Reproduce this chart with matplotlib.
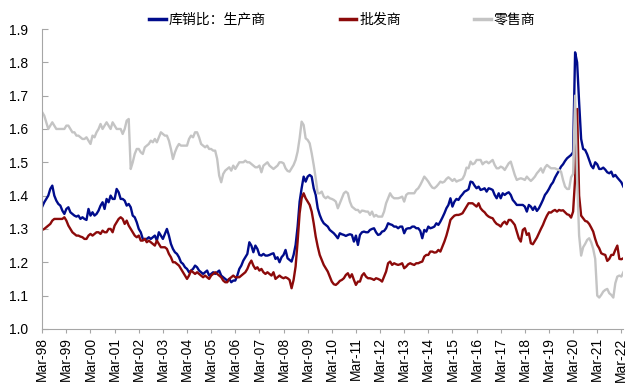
import matplotlib
matplotlib.use("Agg")
import matplotlib.pyplot as plt

plt.rcParams['font.family'] = ['Liberation Sans', 'Noto Sans CJK SC', 'DejaVu Sans']

# 月度库销比，1998年3月起（每行一年：3月 ... 次年2月）
producer = [
    1.367, 1.38, 1.39, 1.40, 1.42, 1.43, 1.40, 1.385, 1.375, 1.37, 1.355, 1.345,
    1.36, 1.365, 1.35, 1.345, 1.34, 1.337, 1.34, 1.33, 1.335, 1.33, 1.327, 1.36,
    1.34, 1.35, 1.34, 1.345, 1.355, 1.37, 1.38, 1.36, 1.39, 1.38, 1.40, 1.39,
    1.39, 1.42, 1.41, 1.39, 1.39, 1.385, 1.37, 1.375, 1.365, 1.34, 1.335, 1.32,
    1.30, 1.29, 1.27, 1.27, 1.27, 1.275, 1.27, 1.275, 1.28, 1.265, 1.29, 1.28,
    1.27, 1.285, 1.30, 1.28, 1.255, 1.24, 1.23, 1.225, 1.215, 1.20, 1.195, 1.185,
    1.18, 1.17, 1.175, 1.18, 1.19, 1.185, 1.175, 1.17, 1.165, 1.17, 1.175, 1.16,
    1.165, 1.17, 1.165, 1.17, 1.175, 1.16, 1.155, 1.15, 1.145, 1.15, 1.14, 1.145,
    1.145, 1.16, 1.18, 1.19, 1.205, 1.215, 1.225, 1.26, 1.25, 1.23, 1.25, 1.24,
    1.222, 1.22, 1.225, 1.22, 1.22, 1.222, 1.225, 1.227, 1.21, 1.215, 1.20, 1.215,
    1.222, 1.237, 1.212, 1.207, 1.202, 1.222, 1.252, 1.307, 1.382, 1.422, 1.457, 1.442,
    1.457, 1.462, 1.457, 1.422, 1.402, 1.362, 1.342, 1.327, 1.317, 1.312, 1.307, 1.297,
    1.292, 1.287, 1.28, 1.272, 1.287, 1.284, 1.282, 1.279, 1.282, 1.284, 1.282, 1.262,
    1.28, 1.252, 1.282, 1.29, 1.292, 1.29, 1.29, 1.297, 1.30, 1.302, 1.29, 1.282,
    1.284, 1.292, 1.294, 1.302, 1.317, 1.314, 1.312, 1.307, 1.307, 1.302, 1.307, 1.307,
    1.287, 1.30, 1.302, 1.302, 1.307, 1.307, 1.302, 1.302, 1.294, 1.272, 1.297, 1.292,
    1.307, 1.302, 1.304, 1.307, 1.317, 1.312, 1.322, 1.334, 1.347, 1.362, 1.372, 1.392,
    1.367, 1.382, 1.39, 1.387, 1.397, 1.404, 1.412, 1.415, 1.419, 1.442, 1.44, 1.43,
    1.422, 1.427, 1.417, 1.419, 1.422, 1.412, 1.422, 1.42, 1.417, 1.402, 1.392, 1.407,
    1.392, 1.407, 1.402, 1.407, 1.41, 1.402, 1.387, 1.38, 1.372, 1.372, 1.372, 1.372,
    1.367, 1.352, 1.372, 1.367, 1.357, 1.367, 1.354, 1.362, 1.374, 1.387, 1.402, 1.41,
    1.42, 1.432, 1.44, 1.454, 1.465, 1.475, 1.487, 1.494, 1.504, 1.512, 1.517, 1.522,
    1.53, 1.83, 1.80, 1.68, 1.57, 1.54, 1.537, 1.524, 1.507, 1.49, 1.482, 1.50,
    1.494, 1.48, 1.48, 1.484, 1.478, 1.47, 1.467, 1.472, 1.457, 1.462, 1.454, 1.447,
    1.44, 1.427,
]

wholesale = [
    1.297, 1.30, 1.305, 1.31, 1.315, 1.325, 1.33, 1.33, 1.33, 1.33, 1.33, 1.335,
    1.325, 1.31, 1.30, 1.29, 1.285, 1.28, 1.28, 1.277, 1.275, 1.27, 1.27, 1.28,
    1.285, 1.28, 1.285, 1.29, 1.29, 1.285, 1.295, 1.29, 1.29, 1.30, 1.30, 1.29,
    1.31, 1.32, 1.33, 1.335, 1.33, 1.315, 1.325, 1.31, 1.30, 1.29, 1.28, 1.275,
    1.28, 1.265, 1.265, 1.27, 1.26, 1.265, 1.26, 1.255, 1.25, 1.265, 1.255, 1.245,
    1.245, 1.245, 1.24, 1.225, 1.215, 1.20, 1.20, 1.195, 1.19, 1.18, 1.17, 1.16,
    1.15, 1.16, 1.175, 1.17, 1.165, 1.17, 1.165, 1.16, 1.155, 1.16, 1.155, 1.15,
    1.16, 1.165, 1.17, 1.165, 1.16, 1.155, 1.145, 1.14, 1.14, 1.15, 1.155, 1.16,
    1.155, 1.155, 1.155, 1.16, 1.165, 1.17, 1.18, 1.195, 1.205, 1.19, 1.18, 1.185,
    1.175, 1.18, 1.17, 1.165, 1.17, 1.165, 1.16, 1.17, 1.15, 1.155, 1.16, 1.155,
    1.152, 1.155, 1.152, 1.147, 1.122, 1.147, 1.187, 1.262, 1.347, 1.392, 1.407, 1.392,
    1.382, 1.372, 1.352, 1.317, 1.277, 1.247, 1.222, 1.207, 1.192, 1.182, 1.172, 1.157,
    1.142, 1.134, 1.132, 1.137, 1.144, 1.147, 1.152, 1.162, 1.167, 1.154, 1.164, 1.147,
    1.132, 1.142, 1.142, 1.16, 1.167, 1.157, 1.152, 1.152, 1.15, 1.147, 1.152, 1.15,
    1.147, 1.142, 1.157, 1.172, 1.197, 1.202, 1.192, 1.197, 1.194, 1.192, 1.194, 1.197,
    1.182, 1.187, 1.194, 1.197, 1.194, 1.192, 1.197, 1.197, 1.20, 1.202, 1.217, 1.222,
    1.222, 1.232, 1.232, 1.229, 1.23, 1.237, 1.232, 1.247, 1.262, 1.28, 1.302, 1.327,
    1.334, 1.34, 1.342, 1.342, 1.344, 1.347, 1.357, 1.367, 1.377, 1.377, 1.377, 1.372,
    1.367, 1.377, 1.362, 1.355, 1.35, 1.342, 1.337, 1.334, 1.332, 1.322, 1.315, 1.312,
    1.307, 1.317, 1.322, 1.314, 1.327, 1.327, 1.32, 1.312, 1.292, 1.272, 1.262, 1.297,
    1.302, 1.282, 1.287, 1.257, 1.254, 1.264, 1.274, 1.287, 1.30, 1.312, 1.327, 1.34,
    1.35, 1.349, 1.354, 1.357, 1.352, 1.357, 1.355, 1.356, 1.35, 1.344, 1.342, 1.334,
    1.352, 1.45, 1.66, 1.40, 1.34, 1.332, 1.324, 1.322, 1.315, 1.304, 1.292, 1.27,
    1.252, 1.242, 1.227, 1.224, 1.222, 1.204, 1.21, 1.222, 1.222, 1.237, 1.25, 1.21,
    1.209, 1.212,
]

retail = [
    1.65, 1.64, 1.62, 1.60, 1.61, 1.62, 1.61, 1.60, 1.60, 1.60, 1.60, 1.60,
    1.61, 1.61, 1.60, 1.59, 1.59, 1.58, 1.58, 1.575, 1.57, 1.57, 1.575, 1.565,
    1.555, 1.58, 1.575, 1.59, 1.60, 1.615, 1.60, 1.61, 1.62, 1.61, 1.60, 1.62,
    1.61, 1.60, 1.60, 1.60, 1.585, 1.60, 1.625, 1.63, 1.48, 1.50, 1.525, 1.54,
    1.54, 1.53, 1.525, 1.545, 1.55, 1.555, 1.565, 1.56, 1.57, 1.56, 1.575, 1.59,
    1.585, 1.58, 1.58, 1.565, 1.54, 1.51, 1.53, 1.545, 1.555, 1.55, 1.55, 1.55,
    1.55, 1.57, 1.58, 1.575, 1.59, 1.59, 1.575, 1.555, 1.55, 1.545, 1.55, 1.54,
    1.54, 1.535, 1.535, 1.51, 1.46, 1.44, 1.465, 1.475, 1.48, 1.485, 1.475, 1.49,
    1.48, 1.49, 1.50, 1.50, 1.50, 1.505, 1.50, 1.50, 1.495, 1.49, 1.485, 1.485,
    1.49, 1.47, 1.49, 1.495, 1.50, 1.49, 1.485, 1.48, 1.485, 1.49, 1.50, 1.50,
    1.497, 1.482, 1.474, 1.472, 1.482, 1.492, 1.507, 1.532, 1.572, 1.622, 1.612, 1.572,
    1.567, 1.557, 1.527, 1.492, 1.452, 1.407, 1.407, 1.412, 1.397, 1.392, 1.397, 1.392,
    1.39, 1.387, 1.382, 1.362, 1.377, 1.392, 1.407, 1.412, 1.407, 1.382, 1.367, 1.362,
    1.357, 1.357, 1.349, 1.355, 1.354, 1.352, 1.352, 1.342, 1.352, 1.337, 1.342, 1.337,
    1.337, 1.337, 1.352, 1.377, 1.392, 1.407, 1.397, 1.392, 1.392, 1.392, 1.394, 1.397,
    1.382, 1.402, 1.407, 1.407, 1.407, 1.407, 1.417, 1.422, 1.432, 1.444, 1.457, 1.45,
    1.442, 1.432, 1.424, 1.422, 1.427, 1.434, 1.442, 1.439, 1.442, 1.45, 1.455, 1.45,
    1.444, 1.45, 1.442, 1.445, 1.447, 1.45, 1.462, 1.484, 1.482, 1.502, 1.494, 1.497,
    1.507, 1.507, 1.507, 1.494, 1.50, 1.502, 1.497, 1.502, 1.507, 1.492, 1.482, 1.482,
    1.487, 1.484, 1.477, 1.487, 1.497, 1.502, 1.482, 1.462, 1.447, 1.45, 1.452, 1.45,
    1.447, 1.457, 1.45, 1.444, 1.45, 1.457, 1.467, 1.474, 1.482, 1.469, 1.484, 1.492,
    1.487, 1.482, 1.482, 1.482, 1.479, 1.477, 1.472, 1.447, 1.427, 1.42, 1.42, 1.455,
    1.465, 1.70, 1.45, 1.28, 1.22, 1.245, 1.255, 1.267, 1.272, 1.26, 1.24, 1.21,
    1.10, 1.094, 1.102, 1.112, 1.117, 1.12, 1.107, 1.102, 1.094, 1.137, 1.157, 1.16,
    1.157, 1.17,
]

series_names = ['库销比：生产商', '批发商', '零售商']
series_colors = ['#000C8C', '#8C0A0A', '#C4C4C4']
tick_years = list(range(1998, 2023))
tick_labels = [f"Mar-{y % 100:02d}" for y in tick_years]

fig = plt.figure(figsize=(6.4, 3.92), dpi=100)
ax = fig.add_axes([0.066, 0.161, 0.908, 0.765])

months = list(range(len(producer)))
for values, name, color in zip([producer, wholesale, retail], series_names, series_colors):
    ax.plot(months, values, color=color, linewidth=1.7, label=name)

ax.set_xlim(0, len(producer) - 1)
ax.set_ylim(1.0, 1.9)
ax.set_yticks([1.0 + 0.1 * i for i in range(10)])
ax.set_yticklabels([f"{1.0 + 0.1 * i:.1f}" for i in range(10)], fontsize=10)
ax.set_xticks([12 * i for i in range(len(tick_labels))])
ax.set_xticklabels(tick_labels, rotation=90, fontsize=10)

for side in ['top', 'right']:
    ax.spines[side].set_visible(False)
for side in ['left', 'bottom']:
    ax.spines[side].set_color('#A6A6A6')
ax.tick_params(axis='y', direction='in', length=4, color='#A6A6A6', pad=10)
ax.tick_params(axis='x', direction='out', length=3, color='#A6A6A6', pad=3)

leg = fig.legend(loc='upper center', bbox_to_anchor=(0.535, 1.0), ncol=3,
                 frameon=False, handlelength=1.2, handletextpad=0.2,
                 columnspacing=5.3, prop={'family': ['Noto Sans CJK SC'], 'size': 10})
for line in leg.get_lines():
    line.set_linewidth(2.5)

fig.savefig('out.png', dpi=100)
